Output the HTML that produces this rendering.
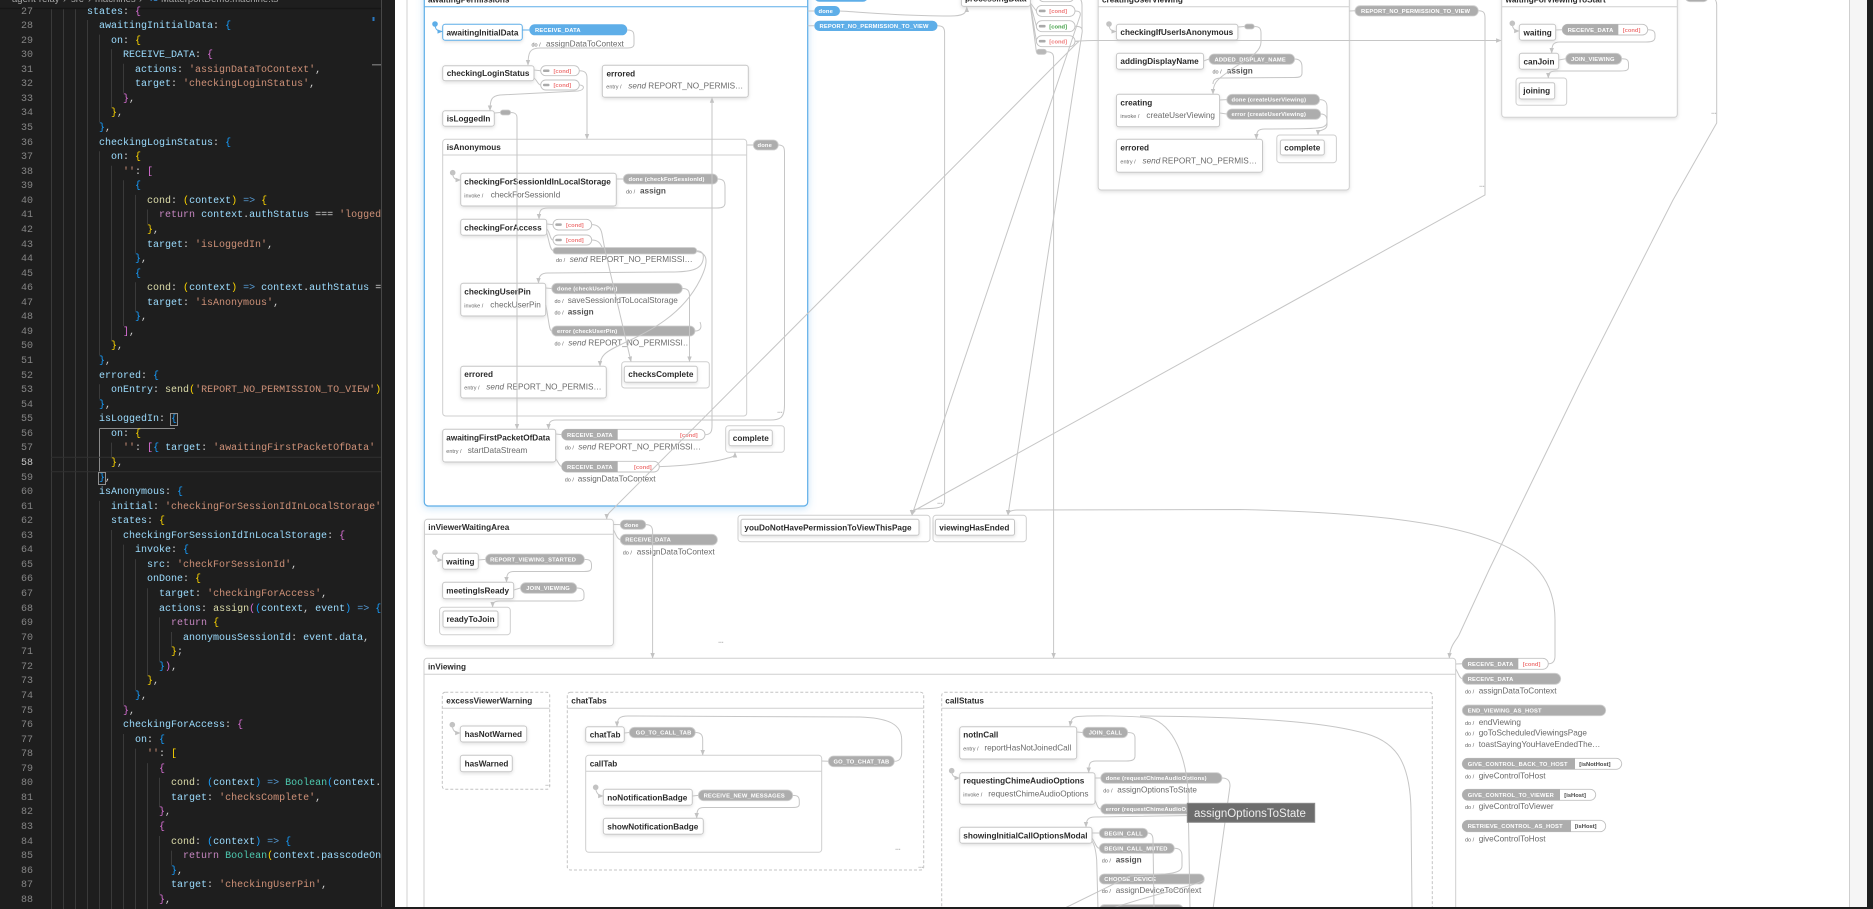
<!DOCTYPE html>
<html><head><meta charset="utf-8">
<style>
html,body{margin:0;padding:0;background:#1e1e1e;width:1873px;height:909px;overflow:hidden}
#ed{position:absolute;left:0;top:0;width:395px;height:909px;background:#1e1e1e;overflow:hidden}
.code{position:absolute;left:51px;top:5.5px;width:330px;height:903px;overflow:hidden;font-family:"Liberation Mono",monospace;font-size:10px;color:#d4d4d4;white-space:normal}
.code div{height:14.57px;line-height:14.57px;white-space:pre;overflow:hidden}
.nums div{height:14.57px;line-height:14.57px}
.nums{position:absolute;left:0;top:5.5px;width:33px;height:903px;overflow:hidden;text-align:right;font-family:"Liberation Mono",monospace;font-size:10px;color:#858585}
.p{color:#9cdcfe}.s{color:#ce9178}.f{color:#dcdcaa}.k{color:#c586c0}.o{color:#569cd6}.t{color:#4ec9b0}
.Y{color:#ffd700}.M{color:#da70d6}.B{color:#179fff}.bx{outline:1px solid #909090}
.bc{position:absolute;top:-6px;font-family:"Liberation Sans",sans-serif;font-size:9.5px;line-height:12px;color:#a8a8a8;white-space:nowrap}
svg text{font-family:"Liberation Sans",sans-serif}
.tl{font-weight:bold;font-size:8.2px;fill:#2b2b2b}
.ac{font-size:8.2px;fill:#6a6a6a}
.acb{font-size:8.2px;fill:#555;font-weight:bold}
.it{font-size:8.2px;fill:#6a6a6a;font-style:italic}
.dd{font-size:5.5px;fill:#666}
.ev{font-size:5.8px;font-weight:bold;fill:#fff;letter-spacing:.15px}
.cr{font-size:5.8px;font-weight:bold;fill:#ef7a7a}
.cg{font-size:5.8px;font-weight:bold;fill:#43a047}
.ck{font-size:5.8px;font-weight:bold;fill:#444}
.nd{fill:#fff;stroke:#c6c6c6;stroke-width:1}
.bo{fill:#fff;stroke:#cfcfcf;stroke-width:1}
.ds{fill:none;stroke:#c4c4c4;stroke-width:1;stroke-dasharray:3 2}
.hl{stroke:#cfcfcf;stroke-width:1}
.g{fill:#adadad;stroke:#d0d0d0;stroke-width:.8}
.g0{fill:#adadad}
.pw{fill:#fff;stroke:#c2c2c2;stroke-width:.9}
.bl{fill:#5eaee8}
.ln{fill:none;stroke:#c6c6c6;stroke-width:1}
.ar{marker-end:url(#ah)}
.dots{font-size:8px;font-weight:bold;fill:#c2c2c2;letter-spacing:-.5px}
</style></head>
<body>
<div id="ed">
  <div class="bc" style="left:12px">agent-relay</div>
  <div class="bc" style="left:63px">›</div>
  <div class="bc" style="left:71px">src</div>
  <div class="bc" style="left:88px">›</div>
  <div class="bc" style="left:95px">machines</div>
  <div class="bc" style="left:139px">›</div>
  <div class="bc" style="left:149px;color:#3b8fd6;font-size:7px;font-weight:bold">TS</div>
  <div class="bc" style="left:161px">MatterportDemo.machine.ts</div>
  <svg width="395" height="909" style="position:absolute;left:0;top:0">
    <g stroke="#3a3a3a" stroke-width="1">
      <line x1="51.5" y1="8" x2="51.5" y2="909"/>
      <line x1="63.5" y1="8" x2="63.5" y2="909"/>
      <line x1="75.5" y1="8" x2="75.5" y2="909"/>
      <line x1="87.5" y1="20" x2="87.5" y2="909"/>
      <line x1="99.5" y1="34.6" x2="99.5" y2="122.1"/><line x1="99.5" y1="151.2" x2="99.5" y2="355.2"/><line x1="99.5" y1="384.3" x2="99.5" y2="398.9"/><line x1="99.5" y1="500.9" x2="99.5" y2="909"/>
      <line x1="111.5" y1="49.2" x2="111.5" y2="107.5"/><line x1="111.5" y1="165.8" x2="111.5" y2="340.6"/><line x1="111.5" y1="442.6" x2="111.5" y2="457.2"/><line x1="111.5" y1="530" x2="111.5" y2="909"/>
      <line x1="123.5" y1="63.8" x2="123.5" y2="92.9"/><line x1="123.5" y1="180.3" x2="123.5" y2="326"/><line x1="123.5" y1="544.6" x2="123.5" y2="704.9"/><line x1="123.5" y1="734" x2="123.5" y2="909"/>
      <line x1="135.5" y1="194.9" x2="135.5" y2="253.2"/><line x1="135.5" y1="282.3" x2="135.5" y2="311.5"/><line x1="135.5" y1="559.2" x2="135.5" y2="690.3"/><line x1="135.5" y1="748.6" x2="135.5" y2="909"/>
      <line x1="147.5" y1="209.5" x2="147.5" y2="224.1"/><line x1="147.5" y1="588.3" x2="147.5" y2="675.7"/><line x1="147.5" y1="763.1" x2="147.5" y2="909"/>
      <line x1="159.5" y1="617.4" x2="159.5" y2="661.2"/><line x1="159.5" y1="777.7" x2="159.5" y2="806.9"/><line x1="159.5" y1="836" x2="159.5" y2="894.3"/>
      <line x1="171.5" y1="632" x2="171.5" y2="646.6"/><line x1="171.5" y1="850.6" x2="171.5" y2="865.1"/>
    </g>
    <path d="M99.5,428.5 H175 M99.5,428.5 V471.7" stroke="#8a8a8a" fill="none"/>
    <line x1="51" y1="457.3" x2="381" y2="457.3" stroke="#303030"/>
    <line x1="51" y1="471.8" x2="381" y2="471.8" stroke="#303030"/>
    <line x1="381.5" y1="0" x2="381.5" y2="909" stroke="#474747"/>
    <rect x="372.5" y="17" width="2" height="4" fill="#2b79c2"/>
    <rect x="372" y="64" width="9" height="1.5" fill="#6a6a6a"/>
    <line x1="0" y1="8.5" x2="381" y2="8.5" stroke="#161616" stroke-width="1.5"/>
  </svg>
  <div class="nums">
<div>27</div><div>28</div><div>29</div><div>30</div><div>31</div><div>32</div><div>33</div><div>34</div><div>35</div><div>36</div><div>37</div><div>38</div><div>39</div><div>40</div><div>41</div><div>42</div><div>43</div><div>44</div><div>45</div><div>46</div><div>47</div><div>48</div><div>49</div><div>50</div><div>51</div><div>52</div><div>53</div><div>54</div><div>55</div><div>56</div><div>57</div><div style="color:#c6c6c6">58</div><div>59</div><div>60</div><div>61</div><div>62</div><div>63</div><div>64</div><div>65</div><div>66</div><div>67</div><div>68</div><div>69</div><div>70</div><div>71</div><div>72</div><div>73</div><div>74</div><div>75</div><div>76</div><div>77</div><div>78</div><div>79</div><div>80</div><div>81</div><div>82</div><div>83</div><div>84</div><div>85</div><div>86</div><div>87</div><div>88</div>
  </div>
  <div class="code"><div>      <span class="p">states</span>: <span class="M">{</span></div><div>        <span class="p">awaitingInitialData</span>: <span class="B">{</span></div><div>          <span class="p">on</span>: <span class="Y">{</span></div><div>            <span class="p">RECEIVE_DATA</span>: <span class="M">{</span></div><div>              <span class="p">actions</span>: <span class="s">'assignDataToContext'</span>,</div><div>              <span class="p">target</span>: <span class="s">'checkingLoginStatus'</span>,</div><div>            <span class="M">}</span>,</div><div>          <span class="Y">}</span>,</div><div>        <span class="B">}</span>,</div><div>        <span class="p">checkingLoginStatus</span>: <span class="B">{</span></div><div>          <span class="p">on</span>: <span class="Y">{</span></div><div>            <span class="s">''</span>: <span class="M">[</span></div><div>              <span class="B">{</span></div><div>                <span class="f">cond</span>: <span class="Y">(</span><span class="p">context</span><span class="Y">)</span> <span class="o">=&gt;</span> <span class="Y">{</span></div><div>                  <span class="k">return</span> <span class="p">context</span>.<span class="p">authStatus</span> === <span class="s">'loggedIn'</span>;</div><div>                <span class="Y">}</span>,</div><div>                <span class="p">target</span>: <span class="s">'isLoggedIn'</span>,</div><div>              <span class="B">}</span>,</div><div>              <span class="B">{</span></div><div>                <span class="f">cond</span>: <span class="Y">(</span><span class="p">context</span><span class="Y">)</span> <span class="o">=&gt;</span> <span class="p">context</span>.<span class="p">authStatus</span> === <span class="s">'anonymous'</span>,</div><div>                <span class="p">target</span>: <span class="s">'isAnonymous'</span>,</div><div>              <span class="B">}</span>,</div><div>            <span class="M">]</span>,</div><div>          <span class="Y">}</span>,</div><div>        <span class="B">}</span>,</div><div>        <span class="p">errored</span>: <span class="B">{</span></div><div>          <span class="p">onEntry</span>: <span class="f">send</span><span class="Y">(</span><span class="s">'REPORT_NO_PERMISSION_TO_VIEW'</span><span class="Y">)</span>,</div><div>        <span class="B">}</span>,</div><div>        <span class="p">isLoggedIn</span>: <span class="B bx">{</span></div><div>          <span class="p">on</span>: <span class="Y">{</span></div><div>            <span class="s">''</span>: <span class="M">[</span><span class="B">{</span> <span class="p">target</span>: <span class="s">'awaitingFirstPacketOfData'</span> <span class="B">}</span><span class="M">]</span>,</div><div>          <span class="Y">}</span>,</div><div>        <span class="B bx">}</span>,</div><div>        <span class="p">isAnonymous</span>: <span class="B">{</span></div><div>          <span class="p">initial</span>: <span class="s">'checkingForSessionIdInLocalStorage'</span>,</div><div>          <span class="p">states</span>: <span class="Y">{</span></div><div>            <span class="p">checkingForSessionIdInLocalStorage</span>: <span class="M">{</span></div><div>              <span class="p">invoke</span>: <span class="B">{</span></div><div>                <span class="p">src</span>: <span class="s">'checkForSessionId'</span>,</div><div>                <span class="p">onDone</span>: <span class="Y">{</span></div><div>                  <span class="p">target</span>: <span class="s">'checkingForAccess'</span>,</div><div>                  <span class="p">actions</span>: <span class="f">assign</span><span class="M">(</span><span class="B">(</span><span class="p">context</span>, <span class="p">event</span><span class="B">)</span> <span class="o">=&gt;</span> <span class="B">{</span></div><div>                    <span class="k">return</span> <span class="Y">{</span></div><div>                      <span class="p">anonymousSessionId</span>: <span class="p">event</span>.<span class="p">data</span>,</div><div>                    <span class="Y">}</span>;</div><div>                  <span class="B">}</span><span class="M">)</span>,</div><div>                <span class="Y">}</span>,</div><div>              <span class="B">}</span>,</div><div>            <span class="M">}</span>,</div><div>            <span class="p">checkingForAccess</span>: <span class="M">{</span></div><div>              <span class="p">on</span>: <span class="B">{</span></div><div>                <span class="s">''</span>: <span class="Y">[</span></div><div>                  <span class="M">{</span></div><div>                    <span class="f">cond</span>: <span class="B">(</span><span class="p">context</span><span class="B">)</span> <span class="o">=&gt;</span> <span class="t">Boolean</span><span class="B">(</span><span class="p">context</span>.<span class="p">anonymousSessionId</span><span class="B">)</span>,</div><div>                    <span class="p">target</span>: <span class="s">'checksComplete'</span>,</div><div>                  <span class="M">}</span>,</div><div>                  <span class="M">{</span></div><div>                    <span class="f">cond</span>: <span class="B">(</span><span class="p">context</span><span class="B">)</span> <span class="o">=&gt;</span> <span class="B">{</span></div><div>                      <span class="k">return</span> <span class="t">Boolean</span><span class="Y">(</span><span class="p">context</span>.<span class="p">passcodeOnSession</span><span class="Y">)</span>;</div><div>                    <span class="B">}</span>,</div><div>                    <span class="p">target</span>: <span class="s">'checkingUserPin'</span>,</div><div>                  <span class="M">}</span>,</div></div>
</div>

<svg width="1873" height="909" viewBox="0 0 1873 909" style="position:absolute;left:0;top:0;overflow:hidden">
<defs>
  <marker id="ah" viewBox="0 0 10 10" refX="9" refY="5" markerWidth="5.5" markerHeight="5.5" orient="auto"><path d="M0,1 L10,5 L0,9 z" fill="#c2c2c2"/></marker>
  <marker id="ahb" viewBox="0 0 10 10" refX="9" refY="5" markerWidth="5.5" markerHeight="5.5" orient="auto"><path d="M0,1 L10,5 L0,9 z" fill="#5eaee8"/></marker>
  <filter id="sh" x="-20%" y="-30%" width="140%" height="180%"><feDropShadow dx="0" dy="1.5" stdDeviation="1.8" flood-color="#000" flood-opacity="0.12"/></filter>
  <filter id="gl" x="-10%" y="-10%" width="120%" height="120%"><feDropShadow dx="0" dy="2" stdDeviation="4" flood-color="#5eaee8" flood-opacity="0.35"/></filter>
</defs>

<rect x="395" y="0" width="1454.5" height="909" fill="#fff"/>
<rect x="1849.5" y="0" width="17.5" height="909" fill="#f5f5f5"/>
<rect x="1867" y="0" width="6" height="909" fill="#1e1e1e"/>
<line x1="1849.5" y1="0" x2="1849.5" y2="909" stroke="#cfcfcf"/>
<line x1="407" y1="0" x2="407" y2="909" stroke="#d2d2d2"/>

<rect x="424.3" y="-20" width="383.4" height="526" rx="4" fill="#fff" stroke="#5eaee8" stroke-width="1.2" filter="url(#gl)"/>
<line x1="424.3" y1="6.7" x2="807.7" y2="6.7" stroke="#5eaee8"/>
<text class="tl" x="428" y="2.5">awaitingPermissions</text>

<circle cx="435" cy="24" r="2.8" fill="#5eaee8"/>
<path d="M435,24 C435,29 437,31.5 442.2,31.5" fill="none" stroke="#5eaee8" marker-end="url(#ahb)"/>
<rect x="442.7" y="24.3" width="79.6" height="16" rx="2.5" fill="#fff" stroke="#5eaee8" filter="url(#sh)"/>
<text class="tl" x="446.5" y="35.3">awaitingInitialData</text>
<line x1="522.3" y1="30" x2="529.3" y2="30" stroke="#5eaee8"/>
<rect x="529.3" y="24.3" width="98" height="11" rx="5.5" class="bl"/>
<text class="ev" x="535" y="32">RECEIVE_DATA</text>
<text class="dd" x="531.5" y="46.3">do /</text><text class="ac" x="546" y="46.3">assignDataToContext</text>

<rect x="442.7" y="65.7" width="91.3" height="15" rx="2.5" class="nd" filter="url(#sh)"/>
<text class="tl" x="446.7" y="76.2">checkingLoginStatus</text>
<rect x="540.7" y="65.7" width="38.6" height="10" rx="5" class="pw"/><rect x="543" y="69.5" width="6.5" height="2.5" rx="1" fill="#aaa"/><text class="cr" x="553.5" y="72.8">[cond]</text>
<rect x="540.7" y="80" width="38.6" height="10" rx="5" class="pw"/><rect x="543" y="83.8" width="6.5" height="2.5" rx="1" fill="#aaa"/><text class="cr" x="553.5" y="87.1">[cond]</text>

<rect x="442.7" y="110.7" width="51.6" height="15.6" rx="2.5" class="nd" filter="url(#sh)"/>
<text class="tl" x="446.7" y="121.3">isLoggedIn</text>
<rect x="500.3" y="110" width="10.4" height="5" rx="2.5" class="g"/>

<rect x="602.3" y="65.3" width="146" height="32" rx="2.5" class="nd" filter="url(#sh)"/>
<text class="tl" x="606.5" y="76.3">errored</text>
<text class="dd" x="606.3" y="88.3">entry /</text><text class="it" x="628.3" y="88.3">send</text><text class="ac" x="648.3" y="88.3">REPORT_NO_PERMIS…</text>

<rect x="442.7" y="139.3" width="304" height="276.7" rx="3" class="bo"/>
<line x1="442.7" y1="155" x2="746.7" y2="155" class="hl"/>
<text class="tl" x="446.7" y="150.2">isAnonymous</text>
<rect x="753.3" y="140" width="25" height="10" rx="5" class="g"/><text class="ev" x="757.5" y="147.2">done</text>

<circle cx="452.7" cy="172.7" r="2.8" fill="#c2c2c2"/>
<rect x="460.7" y="173.3" width="155.6" height="32.7" rx="2.5" class="nd" filter="url(#sh)"/>
<text class="tl" x="464.3" y="184.3">checkingForSessionIdInLocalStorage</text>
<text class="dd" x="464.3" y="197.3">invoke /</text><text class="ac" x="490.7" y="197.3">checkForSessionId</text>
<rect x="623.3" y="174" width="94.4" height="10" rx="5" class="g"/><text class="ev" x="628.5" y="181.2">done (checkForSessionId)</text>
<text class="dd" x="626" y="193.3">do /</text><text class="acb" x="640" y="193.3">assign</text>

<rect x="460.7" y="219.3" width="86" height="16" rx="2.5" class="nd" filter="url(#sh)"/>
<text class="tl" x="464.3" y="230.3">checkingForAccess</text>
<rect x="553" y="219.3" width="38.7" height="10.7" rx="5.3" class="pw"/><rect x="555.3" y="223.4" width="6.5" height="2.5" rx="1" fill="#aaa"/><text class="cr" x="566" y="226.8">[cond]</text>
<rect x="553" y="247.5" width="143.7" height="6.5" rx="3.2" class="g"/>
<rect x="553" y="235" width="38.7" height="10" rx="5" class="pw"/><rect x="555.3" y="238.8" width="6.5" height="2.5" rx="1" fill="#aaa"/><text class="cr" x="566" y="242.2">[cond]</text>
<text class="dd" x="556" y="262">do /</text><text class="it" x="569.7" y="262">send</text><text class="ac" x="590" y="262">REPORT_NO_PERMISSI…</text>

<rect x="460.7" y="283.3" width="85" height="32.7" rx="2.5" class="nd" filter="url(#sh)"/>
<text class="tl" x="464.3" y="294.3">checkingUserPin</text>
<text class="dd" x="464.3" y="307.3">invoke /</text><text class="ac" x="490.3" y="307.3">checkUserPin</text>
<rect x="551.7" y="283.3" width="130.6" height="10.4" rx="5.2" class="g"/><text class="ev" x="557" y="290.7">done (checkUserPin)</text>
<text class="dd" x="554.5" y="303">do /</text><text class="ac" x="567.7" y="303">saveSessionIdToLocalStorage</text>
<text class="dd" x="554.5" y="314.3">do /</text><text class="acb" x="567.7" y="314.3">assign</text>
<rect x="551.7" y="326" width="143.3" height="10" rx="5" class="g"/><text class="ev" x="557" y="333.2">error (checkUserPin)</text>
<text class="dd" x="554.5" y="345.3">do /</text><text class="it" x="568.3" y="345.3">send</text><text class="ac" x="588.3" y="345.3">REPORT_NO_PERMISSI…</text>

<rect x="460.7" y="366.3" width="145.6" height="31.7" rx="2.5" class="nd" filter="url(#sh)"/>
<text class="tl" x="464.3" y="377">errored</text>
<text class="dd" x="464.3" y="389.3">entry /</text><text class="it" x="486.3" y="389.3">send</text><text class="ac" x="506.7" y="389.3">REPORT_NO_PERMIS…</text>

<rect x="621.7" y="361.7" width="87.6" height="26.3" rx="3" class="bo"/>
<rect x="624.3" y="366.3" width="73" height="16" rx="2" class="nd" filter="url(#sh)"/>
<text class="tl" x="628.3" y="377.2">checksComplete</text>

<rect x="442.7" y="429.3" width="113" height="32.7" rx="2.5" class="nd" filter="url(#sh)"/>
<text class="tl" x="446.3" y="440.3">awaitingFirstPacketOfData</text>
<text class="dd" x="446.3" y="453.2">entry /</text><text class="ac" x="467.7" y="453.2">startDataStream</text>
<rect x="561.7" y="429.3" width="143.3" height="10.7" rx="5.35" class="pw"/>
<path class="g0" d="M567.05,429.3 H617.7 V440 H567.05 A5.35 5.35 0 0 1 567.05 429.3 Z"/>
<text class="ev" x="567" y="436.8">RECEIVE_DATA</text><text class="cr" x="680" y="436.8">[cond]</text>
<text class="dd" x="564.7" y="449.3">do /</text><text class="it" x="578.3" y="449.3">send</text><text class="ac" x="598.3" y="449.3">REPORT_NO_PERMISSI…</text>
<rect x="561.7" y="461.3" width="97.6" height="10.7" rx="5.35" class="pw"/>
<path class="g0" d="M567.05,461.3 H617.7 V472 H567.05 A5.35 5.35 0 0 1 567.05 461.3 Z"/>
<text class="ev" x="567" y="468.8">RECEIVE_DATA</text><text class="cr" x="634" y="468.8">[cond]</text>
<text class="dd" x="564.7" y="481.3">do /</text><text class="ac" x="577.7" y="481.3">assignDataToContext</text>

<rect x="725.7" y="425.7" width="58.6" height="26.6" rx="3" class="bo"/>
<rect x="729" y="430" width="43.3" height="15.7" rx="2" class="nd" filter="url(#sh)"/>
<text class="tl" x="732.8" y="440.8">complete</text>

<rect x="814.3" y="-10" width="53.7" height="11.7" rx="5" class="bl"/>
<rect x="814.3" y="6" width="25.7" height="10" rx="5" class="bl"/><text class="ev" x="818.5" y="13.2">done</text>
<rect x="814.3" y="20.7" width="123.2" height="10.3" rx="5.1" class="bl"/><text class="ev" x="819.5" y="28">REPORT_NO_PERMISSION_TO_VIEW</text>

<rect x="961.4" y="-20" width="69" height="26.4" rx="2.5" class="nd" filter="url(#sh)"/>
<text class="tl" x="965" y="1.5">processingData</text>
<rect x="1038.6" y="-9" width="35.4" height="10.7" rx="5" class="pw"/>
<rect x="1036.4" y="5.4" width="38.6" height="11" rx="5.5" class="pw"/><rect x="1038.8" y="9.6" width="6.8" height="2.6" rx="1" fill="#aaa"/><text class="cr" x="1049.3" y="13.2">[cond]</text>
<rect x="1036.4" y="20.7" width="38.6" height="11" rx="5.5" class="pw"/><rect x="1038.8" y="24.9" width="6.8" height="2.6" rx="1" fill="#aaa"/><text class="cg" x="1049.3" y="28.5">[cond]</text>
<rect x="1036.4" y="35.7" width="38.6" height="11" rx="5.5" class="pw"/><rect x="1038.8" y="39.9" width="6.8" height="2.6" rx="1" fill="#aaa"/><text class="cr" x="1049.3" y="43.5">[cond]</text>
<rect x="1036.4" y="49.3" width="10" height="5" rx="2.5" fill="#b8b8b8" stroke="#c8c8c8" stroke-width=".8"/>

<rect x="1098.2" y="-20" width="251.1" height="210" rx="3" class="bo" filter="url(#sh)"/>
<line x1="1098.2" y1="6.7" x2="1349.3" y2="6.7" class="hl"/>
<text class="tl" x="1102" y="2.5">creatingUserViewing</text>
<circle cx="1109" cy="24" r="2.8" fill="#c2c2c2"/>
<rect x="1116.4" y="24.3" width="121.5" height="15.7" rx="2.5" class="nd" filter="url(#sh)"/>
<text class="tl" x="1120.4" y="35">checkingIfUserIsAnonymous</text>
<rect x="1244.6" y="24" width="9.7" height="5" rx="2.5" class="g"/>
<rect x="1116.4" y="53.3" width="87.2" height="16" rx="2.5" class="nd" filter="url(#sh)"/>
<text class="tl" x="1120.4" y="64.2">addingDisplayName</text>
<rect x="1209" y="54" width="85.6" height="10.3" rx="5.1" class="g"/><text class="ev" x="1214.5" y="61.3">ADDED_DISPLAY_NAME</text>
<text class="dd" x="1212.5" y="73.5">do /</text><text class="acb" x="1226.8" y="73.5">assign</text>
<rect x="1116.4" y="94.3" width="103.2" height="32.4" rx="2.5" class="nd" filter="url(#sh)"/>
<text class="tl" x="1120.4" y="105.5">creating</text>
<text class="dd" x="1120.4" y="117.8">invoke /</text><text class="ac" x="1146.4" y="117.8">createUserViewing</text>
<rect x="1226.8" y="94.3" width="92.8" height="10.7" rx="5.3" class="g"/><text class="ev" x="1231.5" y="101.7">done (createUserViewing)</text>
<rect x="1226.8" y="109" width="93.9" height="10.3" rx="5.1" class="g"/><text class="ev" x="1231.5" y="116.2">error (createUserViewing)</text>
<rect x="1116.4" y="139.3" width="146.1" height="33" rx="2.5" class="nd" filter="url(#sh)"/>
<text class="tl" x="1120.4" y="150.5">errored</text>
<text class="dd" x="1120.4" y="163.3">entry /</text><text class="it" x="1142.5" y="163.3">send</text><text class="ac" x="1162" y="163.3">REPORT_NO_PERMIS…</text>
<rect x="1276.8" y="135" width="59.6" height="27.7" rx="3" class="bo"/>
<rect x="1280.4" y="140" width="43.9" height="15" rx="2" class="nd" filter="url(#sh)"/>
<text class="tl" x="1284.3" y="150.6">complete</text>
<rect x="1355" y="5.7" width="123.3" height="10.3" rx="5.1" class="g"/><text class="ev" x="1361" y="13">REPORT_NO_PERMISSION_TO_VIEW</text>

<rect x="1501.7" y="-20" width="175.6" height="137.3" rx="3" class="bo" filter="url(#sh)"/>
<line x1="1501.7" y1="6.7" x2="1677.3" y2="6.7" class="hl"/>
<text class="tl" x="1505.5" y="2.5">waitingForViewingToStart</text>
<circle cx="1512.3" cy="23.3" r="2.8" fill="#c2c2c2"/>
<rect x="1519.3" y="24.3" width="36.4" height="16" rx="2.5" class="nd" filter="url(#sh)"/>
<text class="tl" x="1523.5" y="35.4">waiting</text>
<rect x="1562.3" y="24.3" width="85.4" height="10.7" rx="5.35" class="pw"/>
<path class="g0" d="M1567.65,24.3 H1618.3 V35 H1567.65 A5.35 5.35 0 0 1 1567.65 24.3 Z"/>
<text class="ev" x="1567.7" y="31.8">RECEIVE_DATA</text><text class="cr" x="1622.7" y="31.8">[cond]</text>
<rect x="1519.3" y="53.3" width="39.4" height="16" rx="2.5" class="nd" filter="url(#sh)"/>
<text class="tl" x="1523.5" y="64.3">canJoin</text>
<rect x="1565.7" y="53.3" width="56" height="11" rx="5.5" class="g"/><text class="ev" x="1571" y="60.8">JOIN_VIEWING</text>
<rect x="1516" y="78" width="50.7" height="27.3" rx="3" class="bo"/>
<rect x="1519.3" y="82.7" width="35.4" height="16.3" rx="2" class="nd" filter="url(#sh)"/>
<text class="tl" x="1523.3" y="93.6">joining</text>
<rect x="1685" y="-9" width="23.3" height="10.7" rx="5" class="g"/>

<rect x="738" y="515.3" width="192" height="26.4" rx="3" class="bo"/>
<rect x="741" y="519.3" width="178" height="16" rx="2" class="nd" filter="url(#sh)"/>
<text class="tl" x="744.4" y="530.3">youDoNotHavePermissionToViewThisPage</text>
<rect x="933" y="515.3" width="93.3" height="26.4" rx="3" class="bo"/>
<rect x="935.4" y="519.3" width="79.1" height="16" rx="2" class="nd" filter="url(#sh)"/>
<text class="tl" x="939.3" y="530.3">viewingHasEnded</text>

<rect x="424.5" y="519.3" width="188.9" height="126.4" rx="3" class="bo" filter="url(#sh)"/>
<line x1="424.5" y1="534.3" x2="613.4" y2="534.3" class="hl"/>
<text class="tl" x="428.3" y="529.8">inViewerWaitingArea</text>
<rect x="620.2" y="520" width="25.6" height="9.3" rx="4.6" class="g"/><text class="ev" x="624.2" y="526.8">done</text>
<rect x="620.2" y="534.3" width="97.2" height="10.7" rx="5.3" class="g"/><text class="ev" x="625.2" y="541.7">RECEIVE_DATA</text>
<text class="dd" x="622.7" y="554.5">do /</text><text class="ac" x="636.8" y="554.5">assignDataToContext</text>
<circle cx="435" cy="552.3" r="2.8" fill="#c2c2c2"/>
<rect x="442.6" y="553.3" width="35.7" height="16" rx="2.5" class="nd" filter="url(#sh)"/>
<text class="tl" x="446.3" y="564.3">waiting</text>
<rect x="485.5" y="554" width="98.9" height="10.7" rx="5.3" class="g"/><text class="ev" x="490.1" y="561.4">REPORT_VIEWING_STARTED</text>
<rect x="442.6" y="582.3" width="71.1" height="16.4" rx="2.5" class="nd" filter="url(#sh)"/>
<text class="tl" x="446.3" y="593.4">meetingIsReady</text>
<rect x="520.4" y="582.7" width="56.4" height="10.6" rx="5.3" class="g"/><text class="ev" x="526.3" y="590">JOIN_VIEWING</text>
<rect x="439.6" y="607.3" width="70.7" height="27.4" rx="3" class="bo"/>
<rect x="443" y="611" width="55" height="16.3" rx="2" class="nd" filter="url(#sh)"/>
<text class="tl" x="446.5" y="622">readyToJoin</text>

<rect x="424" y="658.3" width="1031.7" height="260" rx="3" class="bo"/>
<line x1="424" y1="674.3" x2="1455.7" y2="674.3" class="hl"/>
<text class="tl" x="428" y="669.5">inViewing</text>

<rect x="442.3" y="692.3" width="107.4" height="97" rx="3" class="ds"/>
<line x1="442.3" y1="708.3" x2="549.7" y2="708.3" class="hl"/>
<text class="tl" x="446.3" y="703.5">excessViewerWarning</text>
<circle cx="452.3" cy="724.7" r="2.8" fill="#c2c2c2"/>
<rect x="460.3" y="726" width="66.4" height="16" rx="2.5" class="nd" filter="url(#sh)"/>
<text class="tl" x="464.6" y="737">hasNotWarned</text>
<rect x="460.3" y="755.3" width="52" height="16.4" rx="2.5" class="nd" filter="url(#sh)"/>
<text class="tl" x="464.6" y="766.5">hasWarned</text>

<rect x="567.3" y="692.3" width="356.4" height="177.7" rx="3" class="ds"/>
<line x1="567.3" y1="708.3" x2="923.7" y2="708.3" class="hl"/>
<text class="tl" x="571.3" y="703.5">chatTabs</text>
<rect x="585.7" y="726.7" width="38.6" height="15.6" rx="2.5" class="nd" filter="url(#sh)"/>
<text class="tl" x="589.7" y="737.5">chatTab</text>
<rect x="629.3" y="727.3" width="66" height="10.4" rx="5.2" class="g"/><text class="ev" x="635.8" y="734.6">GO_TO_CALL_TAB</text>
<rect x="585.7" y="755.3" width="236" height="97" rx="3" class="bo"/>
<line x1="585.7" y1="771.3" x2="821.7" y2="771.3" class="hl"/>
<text class="tl" x="589.7" y="766.6">callTab</text>
<rect x="828.3" y="756" width="66" height="10.7" rx="5.3" class="g"/><text class="ev" x="833.5" y="763.4">GO_TO_CHAT_TAB</text>
<circle cx="595.7" cy="787.3" r="2.8" fill="#c2c2c2"/>
<rect x="603.3" y="789.3" width="89" height="16" rx="2.5" class="nd" filter="url(#sh)"/>
<text class="tl" x="607.3" y="800.4">noNotificationBadge</text>
<rect x="698.3" y="790" width="94.4" height="10.7" rx="5.3" class="g"/><text class="ev" x="703.6" y="797.4">RECEIVE_NEW_MESSAGES</text>
<rect x="603.3" y="818.3" width="100" height="16" rx="2.5" class="nd" filter="url(#sh)"/>
<text class="tl" x="607.3" y="829.4">showNotificationBadge</text>

<rect x="941.7" y="692.3" width="490.6" height="230" rx="3" class="ds"/>
<line x1="941.7" y1="708.3" x2="1432.3" y2="708.3" class="hl"/>
<text class="tl" x="945.3" y="703.5">callStatus</text>
<rect x="959.7" y="726.7" width="117" height="32.3" rx="2.5" class="nd" filter="url(#sh)"/>
<text class="tl" x="963.3" y="737.6">notInCall</text>
<text class="dd" x="963.3" y="750.3">entry /</text><text class="ac" x="984.4" y="750.3">reportHasNotJoinedCall</text>
<rect x="1082.7" y="727.3" width="45" height="10.4" rx="5.2" class="g"/><text class="ev" x="1088.7" y="734.6">JOIN_CALL</text>
<circle cx="951.7" cy="770.7" r="2.8" fill="#c2c2c2"/>
<rect x="959.7" y="772.7" width="135.3" height="31.6" rx="2.5" class="nd" filter="url(#sh)"/>
<text class="tl" x="963.3" y="783.6">requestingChimeAudioOptions</text>
<text class="dd" x="963.3" y="796.3">invoke /</text><text class="ac" x="988.3" y="796.3">requestChimeAudioOptions</text>
<rect x="1100.7" y="772.7" width="121.3" height="10.6" rx="5.3" class="g"/><text class="ev" x="1105.8" y="780.1">done (requestChimeAudioOptions)</text>
<text class="dd" x="1103.3" y="792.5">do /</text><text class="ac" x="1117.3" y="792.5">assignOptionsToState</text>
<rect x="1100.7" y="804" width="121.3" height="10" rx="5" class="g"/><text class="ev" x="1105.8" y="811.2">error (requestChimeAudioOptions)</text>
<rect x="959.7" y="827.3" width="132.3" height="16" rx="2.5" class="nd" filter="url(#sh)"/>
<text class="tl" x="963.3" y="838.4">showingInitialCallOptionsModal</text>
<rect x="1099.3" y="828.3" width="48.4" height="9.7" rx="4.8" class="g"/><text class="ev" x="1104.3" y="835.3">BEGIN_CALL</text>
<rect x="1099.3" y="843.3" width="75" height="10" rx="5" class="g"/><text class="ev" x="1104.3" y="850.5">BEGIN_CALL_MUTED</text>
<text class="dd" x="1101.7" y="862.3">do /</text><text class="acb" x="1115.7" y="862.3">assign</text>
<rect x="1099.3" y="874" width="105" height="10" rx="5" class="g"/><text class="ev" x="1104.3" y="881.2">CHOOSE_DEVICE</text>
<text class="dd" x="1101.7" y="893">do /</text><text class="ac" x="1115.7" y="893">assignDeviceToContext</text>
<rect x="1099.3" y="904.7" width="84" height="10" rx="5" class="g"/>

<rect x="1462.3" y="658.3" width="86" height="11" rx="5.5" class="pw"/>
<path class="g0" d="M1467.8,658.3 H1518.3 V669.3 H1467.8 A5.5 5.5 0 0 1 1467.8 658.3 Z"/>
<text class="ev" x="1467.7" y="666">RECEIVE_DATA</text><text class="cr" x="1522.7" y="666">[cond]</text>
<rect x="1462.3" y="673.3" width="98.4" height="11" rx="5.5" class="g"/><text class="ev" x="1467.7" y="681">RECEIVE_DATA</text>
<text class="dd" x="1465" y="693.7">do /</text><text class="ac" x="1478.7" y="693.7">assignDataToContext</text>
<rect x="1462.3" y="705" width="143.4" height="10.7" rx="5.3" class="g"/><text class="ev" x="1467.7" y="712.5">END_VIEWING_AS_HOST</text>
<text class="dd" x="1465" y="724.8">do /</text><text class="ac" x="1478.7" y="724.8">endViewing</text>
<text class="dd" x="1465" y="735.4">do /</text><text class="ac" x="1478.7" y="735.4">goToScheduledViewingsPage</text>
<text class="dd" x="1465" y="746.8">do /</text><text class="ac" x="1478.7" y="746.8">toastSayingYouHaveEndedThe…</text>
<rect x="1462.3" y="758.3" width="159.4" height="11" rx="5.5" class="pw"/>
<path class="g0" d="M1467.8,758.3 H1575 V769.3 H1467.8 A5.5 5.5 0 0 1 1467.8 758.3 Z"/>
<text class="ev" x="1467.7" y="766">GIVE_CONTROL_BACK_TO_HOST</text><text class="ck" x="1579.3" y="766">[isNotHost]</text>
<text class="dd" x="1465" y="778.4">do /</text><text class="ac" x="1478.7" y="778.4">giveControlToHost</text>
<rect x="1462.3" y="789.3" width="133.4" height="11" rx="5.5" class="pw"/>
<path class="g0" d="M1467.8,789.3 H1560 V800.3 H1467.8 A5.5 5.5 0 0 1 1467.8 789.3 Z"/>
<text class="ev" x="1467.7" y="797">GIVE_CONTROL_TO_VIEWER</text><text class="ck" x="1564.3" y="797">[isHost]</text>
<text class="dd" x="1465" y="809">do /</text><text class="ac" x="1478.7" y="809">giveControlToViewer</text>
<rect x="1462.3" y="820.3" width="143.4" height="11.4" rx="5.7" class="pw"/>
<path class="g0" d="M1467.8,820.3 H1571 V831.7 H1467.8 A5.7 5.7 0 0 1 1467.8 820.3 Z"/>
<text class="ev" x="1467.7" y="828.2">RETRIEVE_CONTROL_AS_HOST</text><text class="ck" x="1575" y="828.2">[isHost]</text>
<text class="dd" x="1465" y="841.4">do /</text><text class="ac" x="1478.7" y="841.4">giveControlToHost</text>

<g class="ln">
  <path class="ar" d="M627.3,30 C634,30 634,33 634,38 L634,44 C634,48 630,48 625,48 L540,48 C530,48 528,52 528,65"/>
  <path d="M534,70 L540.7,70.7 M534,78 C537,80 538,85 540.7,85"/>
  <path class="ar" d="M579.3,70.7 C585,70.7 587,73 587,78 L587,139"/>
  <path class="ar" d="M579.3,85 C585,85 585,90 578,91 L500,95 C492,96 490,99 490,110.5"/>
  <path d="M494.3,113 L500.3,112.5"/>
  <path class="ar" d="M510.7,112.5 C515,112.5 517,114 517,118 L517,429"/>
  <path class="ar" d="M705,434.7 C711,434.7 712,431 712,426 L712,97.8"/>
  <path d="M746.7,145 L753.3,145"/>
  <path class="ar" d="M778.3,145 C784,145 784.5,148 784.5,153 L784.5,405 C784.5,418 780,420 770,420 L556,420 C550,420 548.5,423 548.5,429"/>
  <path class="ar" d="M452.7,172.7 C452.7,178 455,180 460.5,180"/>
  <path d="M616.3,179 L623.3,179"/>
  <path class="ar" d="M717.7,179 C724,179 725,182 725,187 L725,203 C725,207 722,208 717,208 L548,208 C541,208 539,210 539,219"/>
  <path d="M546.7,224 L553,224.6 M546.7,229 C550,232 550,240 553,240 M546.7,233 C549,240 550,250 553,250.5"/>
  <path class="ar" d="M591.7,224.6 C598,224.6 601,228 602,234 L605,250 L631,361.5"/>
  <path d="M591.7,240 C598,240 600,243 602,247"/>
  <path class="ar" d="M696.7,250.7 C703,250.7 704,255 703,260 C701,270 690,272 670,272 L548,273 C541,273 538.5,276 538.5,283"/>
  <path class="ar" d="M696.7,251.5 C708,253 709,262 700,280 C680,320 640,335 620,345 C605,352 600,356 600,366"/>
  <path d="M545.7,288 L551.7,288.5"/>
  <path class="ar" d="M682.3,288.5 C688,288.5 689.5,291 689.5,296 L689.5,361.5"/>
  <path d="M545.7,305 C549,320 549,331 551.7,331 M695,331 C701,331 702,327 700,322"/>
  <path d="M555.7,434 L561.7,434.6 M555.7,459 C558,461 559,466 561.7,466.6"/>
  <path class="ar" d="M659.3,466.6 C685,466 715,462 728,458 C733,457 735,456 735,452.6"/>
  <path d="M807.7,11 L814.3,11 M807.7,25.8 L814.3,25.8"/>
  <path class="ar" d="M840,11 C860,12 900,16 950,16 C962,16 966.8,14 966.8,7"/>
  <path class="ar" d="M937.5,25.8 C943,25.8 944.6,28 944.6,33 L944.6,500 C944.6,507 940,508 930,508.5 L918,509 C914,509 912,511 912,515"/>
  <path d="M1030.4,3 L1036.4,11 M1030.4,4 L1036.4,26 M1030.4,5 L1036.4,41 M1030.4,6 L1036.4,52"/>
  <path d="M1074,-3.5 C1080,-3.5 1082,0 1082,5 L1082,30"/>
  <path class="ar" d="M1075,11 C1080,11 1081,13 1080,16 L912,515"/>
  <path class="ar" d="M1075,26.3 C1081,26.3 1083,28 1082,33 L1008,515"/>
  <path class="ar" d="M1075,41.2 C1079,41.2 1079,42 1077,43 L612,510 C608,514 606.7,515 606.7,519"/>
  <path class="ar" d="M1075,41.2 C1080,41 1085,40.5 1095,40.5 L1501,40.5"/>
  <path class="ar" d="M1046.4,51.8 C1052,51.8 1053.6,54 1053.6,58 L1053.6,658"/>
  <path class="ar" d="M1109,24 C1109,29 1111,31.5 1116.2,31.5"/>
  <path d="M1237.9,27 L1244.6,26.5"/>
  <path class="ar" d="M1254.3,26.5 C1259,26.5 1261,28 1261,33 L1261,42 C1261,55 1240,62 1228,72 C1216,80 1213,84 1213,94"/>
  <path d="M1203.6,61 L1209,59"/>
  <path d="M1294.6,59 C1300,59 1302,62 1302,67 L1302,73 C1302,77 1299,77.5 1294,77.5 L1222,78 C1215,78 1213,80 1213,84"/>
  <path d="M1219.6,100 L1226.8,99.6 M1219.6,113 L1226.8,114"/>
  <path class="ar" d="M1319.6,99.6 C1325,99.6 1327,102 1327,107 L1327,125 C1327,130 1320,130 1318,132 L1318,135"/>
  <path class="ar" d="M1320.7,114 C1326,114 1327,117 1327,122 C1327,128 1320,128.5 1300,128.7 L1265,129 C1258,129 1256.4,131 1256.4,139"/>
  <path d="M1349.3,11 L1355,10.8"/>
  <path class="ar" d="M1478.3,10.8 C1484,10.8 1485,13 1485,18 L1485,195 L918,508.5 C914,510.5 912,512 912,515"/>
  <path class="ar" d="M1512.3,23.3 C1512.3,28 1514,31 1519.1,31"/>
  <path d="M1555.7,30 L1562.3,29.7 M1558.7,60 L1565.7,58.8"/>
  <path class="ar" d="M1647.7,29.7 C1653,29.7 1655,31 1655,35 L1655,37 C1655,41 1652,42 1646,42 L1560,42 C1553,42 1551.7,45 1551.7,53"/>
  <path class="ar" d="M1621.7,58.8 C1627,58.8 1628.5,60 1628.5,64 L1628.5,67 C1628.5,70.5 1626,71 1620,71 L1556,71 C1550,71 1548.3,73 1548.3,78"/>
  <path class="ar" d="M1708.3,-3.5 C1714,-3.5 1716.7,0 1716.7,5 L1716.7,123 L1673,200 L1580,383 L1489,570 L1459,635 C1456,641 1450,645 1449.3,658"/>
  <path d="M613.4,524.5 L620.2,524.6 M613.4,530 C616,534 617,539 620.2,539.6"/>
  <path class="ar" d="M645.8,524.6 C651,524.6 652.6,527 652.6,532 L652.6,658"/>
  <path class="ar" d="M435,552.3 C435,557 437,560 442.4,560"/>
  <path d="M478.3,560 L485.5,559.4 M513.7,590 L520.4,588"/>
  <path class="ar" d="M584.4,559.4 C590,559.4 591.5,561 591.5,565 L591.5,567 C591.5,571 589,571.5 584,571.5 L514,571.5 C508,571.5 506.5,574 506.5,582"/>
  <path class="ar" d="M576.8,588 C582,588 584,590 584,594 L584,597 C584,600.5 581,601 576,601 L500,601 C494,601 492.6,603 492.6,607"/>
  <path class="ar" d="M452.3,724.7 C452.3,729 454,733 460.1,733"/>
  <path d="M624.3,733 L629.3,732.5 M821.7,761 L828.3,761.3"/>
  <path class="ar" d="M695.3,732.5 C701,732.5 702.7,735 702.7,740 L702.7,755"/>
  <path class="ar" d="M894.3,761.3 C899,761.3 901.7,759 901.7,752 L901.7,740 C901.7,725 890,718 860,717 L628,716 C620,716 617,718 617,726.5"/>
  <path class="ar" d="M595.7,787.3 C595.7,792 598,796 603.1,796"/>
  <path d="M692.3,796 L698.3,795.4"/>
  <path class="ar" d="M792.7,795.4 C798,795.4 799.3,797 799.3,801 L799.3,804 C799.3,807 797,807.5 792,807.5 L704,807.5 C698,807.5 696.7,810 696.7,818"/>
  <path d="M1076.7,732 L1082.7,732.5"/>
  <path class="ar" d="M1127.7,732.5 C1133,732.5 1135,734 1135,738 L1135,756 C1135,760 1132,761 1126,761 L1096,761 C1090,761 1088.7,763 1088.7,772.5"/>
  <path class="ar" d="M1190,909 L1188,790 C1186,760 1175,725 1150,718 C1130,715.5 1090,715.5 1078,716.5 C1073,717 1071,719 1070,726"/>
  <path d="M1412,909 L1411,810 C1410,760 1395,740 1360,732 C1320,722 1260,717 1140,716"/>
  <path class="ar" d="M951.7,770.7 C951.7,775 954,778 959.5,778"/>
  <path d="M1095,778 L1100.7,778 M1095,800 C1097,805 1098,809 1100.7,809"/>
  <path d="M1222,778 C1228,778 1230,781 1230,786 L1213,909"/>
  <path class="ar" d="M1222,809 C1229,809 1231,812 1228,815 L1095,817 C1089,817 1086,819 1086,827"/>
  <path d="M1092,833 L1099.3,833 M1092,838 C1095,842 1096,848 1099.3,848.3"/>
  <path d="M1147.7,833 C1152,833 1153,836 1153,840 L1154,909"/>
  <path d="M1174.3,848.3 C1180,848.3 1182,851 1182,856 L1182,866 C1182,871 1176,873 1165,874 L1130,876 L1063,909"/>
  <path d="M1092,841 C1095,845 1096,852 1096.7,860 L1098,909"/>
  <path d="M1204,880 C1195,886 1150,895 1110,909"/>
  <path d="M1455.7,664 L1462.3,663.8 M1455.7,669 C1458,672 1459,678 1462.3,678.8"/>
  <path class="ar" d="M1548.3,663.8 C1553,663.8 1555,661 1555,656 L1555,620 C1555,545 1480,515 1240,509.5 L1018,510 C1011,510 1008,512 1008,515"/>
</g>

<text class="dots" x="777" y="413">...</text>
<text class="dots" x="937" y="504">...</text>
<text class="dots" x="1479" y="187">...</text>
<text class="dots" x="1711" y="114">...</text>
<text class="dots" x="718" y="643">...</text>
<text class="dots" x="545" y="786">...</text>
<text class="dots" x="895" y="850">...</text>
<text class="dots" x="918" y="868">...</text>

<rect x="1187.3" y="803.3" width="127.4" height="19" fill="#6d6d6d" stroke="#8a8a8a" stroke-width="1"/>
<text x="1194" y="817" font-size="11.5" fill="#eeeeee">assignOptionsToState</text>

<rect x="381" y="907" width="1492" height="2" fill="#1e1e1e"/>
</svg>
</body></html>
